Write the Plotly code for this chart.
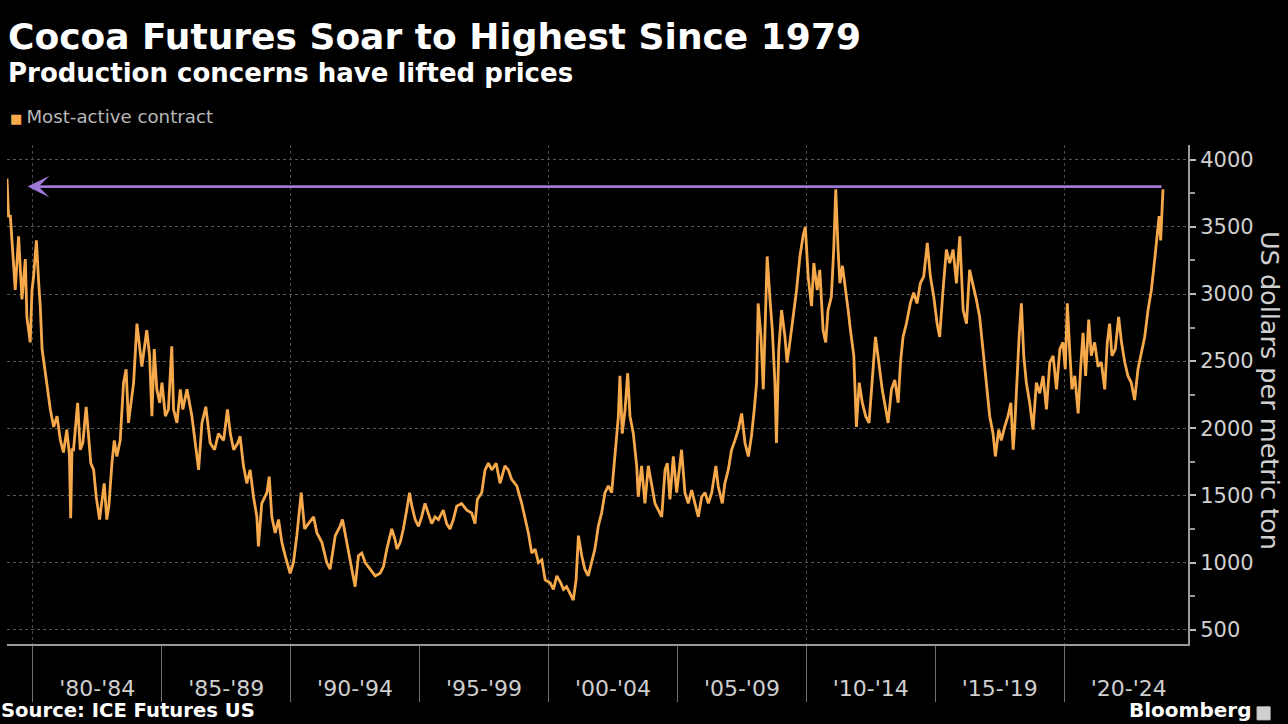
import plotly.graph_objects as go

# ---- data (decimal year, US$ per metric ton) ----
years = [
    1979.00, 1979.06, 1979.13, 1979.26, 1979.32, 1979.45, 1979.58, 1979.71, 1979.77, 1979.90,
    1979.97, 1980.03, 1980.14, 1980.23, 1980.29, 1980.36, 1980.45, 1980.55, 1980.68, 1980.81,
    1980.94, 1981.07, 1981.19, 1981.32, 1981.42, 1981.47, 1981.52, 1981.58, 1981.74, 1981.84,
    1981.94, 1982.07, 1982.16, 1982.25, 1982.36, 1982.46, 1982.59, 1982.68, 1982.77, 1982.87,
    1982.95, 1983.07, 1983.16, 1983.26, 1983.39, 1983.52, 1983.62, 1983.71, 1983.80, 1983.91,
    1984.04, 1984.14, 1984.23, 1984.42, 1984.53, 1984.62, 1984.71, 1984.81, 1984.92, 1985.01,
    1985.14, 1985.26, 1985.39, 1985.46, 1985.59, 1985.72, 1985.82, 1985.98, 1986.08, 1986.17,
    1986.30, 1986.43,
    1986.56, 1986.71, 1986.88, 1987.05, 1987.20, 1987.40, 1987.55, 1987.66, 1987.79, 1987.95,
    1988.04, 1988.17, 1988.30, 1988.43, 1988.56, 1988.69, 1988.75, 1988.88, 1989.08, 1989.17,
    1989.27, 1989.40, 1989.53, 1989.66, 1989.79, 1989.98, 1990.11, 1990.24, 1990.41, 1990.54,
    1990.69, 1990.89, 1991.02, 1991.21, 1991.40, 1991.53, 1991.73, 1991.92, 1992.01, 1992.11,
    1992.24, 1992.37, 1992.50, 1992.63, 1992.76, 1992.89, 1993.08, 1993.28, 1993.47, 1993.60,
    1993.73, 1993.92, 1994.05,
    1994.12, 1994.25, 1994.37, 1994.50, 1994.61, 1994.70, 1994.83, 1994.96, 1995.08, 1995.21,
    1995.34, 1995.47, 1995.60, 1995.73, 1995.92, 1996.05, 1996.18, 1996.31, 1996.44, 1996.63,
    1996.83, 1997.02, 1997.15, 1997.24, 1997.41, 1997.54, 1997.67, 1997.80, 1997.97, 1998.12,
    1998.31, 1998.44, 1998.57, 1998.77, 1998.96, 1999.09, 1999.22, 1999.35, 1999.48, 1999.61,
    1999.74, 1999.87, 2000.06, 2000.19, 2000.32, 2000.47, 2000.58, 2000.70, 2000.83, 2000.96,
    2001.07, 2001.16, 2001.29, 2001.41, 2001.54,
    2001.67, 2001.80, 2001.93, 2002.06, 2002.19, 2002.32, 2002.45, 2002.58, 2002.71, 2002.77,
    2002.86, 2002.97, 2003.07, 2003.16, 2003.29, 2003.42, 2003.48, 2003.61, 2003.74, 2003.87,
    2004.00, 2004.13, 2004.26, 2004.39, 2004.52, 2004.61, 2004.71, 2004.84, 2004.97, 2005.16,
    2005.29, 2005.42, 2005.55, 2005.68, 2005.81, 2005.94, 2006.07, 2006.20, 2006.33, 2006.49,
    2006.58, 2006.74, 2006.84, 2006.97, 2007.10, 2007.23, 2007.36, 2007.49, 2007.62, 2007.75,
    2007.87, 2007.98, 2008.07, 2008.13, 2008.24, 2008.33, 2008.39, 2008.48, 2008.59, 2008.68,
    2008.78, 2008.84, 2008.93, 2009.04, 2009.17,
    2009.25, 2009.36, 2009.49, 2009.62, 2009.75, 2009.87, 2009.96, 2010.07, 2010.20, 2010.29,
    2010.42, 2010.52, 2010.65, 2010.75, 2010.84, 2010.97, 2011.06, 2011.14, 2011.23, 2011.30,
    2011.40, 2011.53, 2011.62, 2011.71, 2011.84, 2011.94, 2012.05, 2012.17, 2012.30, 2012.43,
    2012.56, 2012.68, 2012.81, 2012.94, 2013.08, 2013.17, 2013.30, 2013.43, 2013.56, 2013.65,
    2013.75, 2013.88, 2014.03, 2014.16, 2014.29, 2014.42, 2014.55, 2014.69, 2014.81, 2014.94,
    2015.07, 2015.17, 2015.30, 2015.43, 2015.56, 2015.69, 2015.82, 2015.95, 2016.08, 2016.21,
    2016.33, 2016.46, 2016.59, 2016.72,
    2016.82, 2016.92, 2017.02, 2017.11, 2017.24, 2017.33, 2017.46, 2017.56, 2017.69, 2017.82,
    2017.93, 2018.02, 2018.08, 2018.18, 2018.25, 2018.34, 2018.43, 2018.53, 2018.66, 2018.79,
    2018.92, 2019.05, 2019.18, 2019.31, 2019.44, 2019.57, 2019.70, 2019.83, 2019.95, 2020.04,
    2020.12, 2020.21, 2020.30, 2020.41, 2020.54, 2020.64, 2020.73, 2020.83, 2020.95, 2021.05,
    2021.18, 2021.31, 2021.44, 2021.57, 2021.67, 2021.76, 2021.85, 2021.98, 2022.11, 2022.22,
    2022.35, 2022.47, 2022.60, 2022.73, 2022.86, 2022.99, 2023.12, 2023.25, 2023.38, 2023.51,
    2023.61, 2023.68, 2023.74, 2023.79, 2023.83,
]

prices = [
    3860, 3580, 3580, 3210, 3030, 3430, 2960, 3260, 2830, 2640,
    3030, 3130, 3400, 3080, 2910, 2590, 2460, 2340, 2140, 2010,
    2090, 1910, 1820, 1990, 1800, 1330, 1840, 1840, 2190, 1840,
    1890, 2160, 1910, 1740, 1690, 1490, 1320, 1440, 1590, 1320,
    1420, 1740, 1910, 1790, 1910, 2340, 2440, 2040, 2190, 2340,
    2780, 2610, 2460, 2730, 2540, 2090, 2590, 2290, 2190, 2340,
    2090, 2140, 2610, 2140, 2040, 2290, 2140, 2290, 2190, 2090,
    1890, 1690,
    2040, 2160, 1890, 1840, 1960, 1910, 2140, 1960, 1840, 1890,
    1940, 1720, 1590, 1690, 1490, 1340, 1120, 1440, 1520, 1640,
    1340, 1220, 1320, 1150, 1050, 920, 1000, 1200, 1520, 1250,
    1290, 1340, 1220, 1150, 1000, 950, 1200, 1270, 1320, 1220,
    1100, 970, 820, 1050, 1070, 1000, 950, 900, 920, 970,
    1100, 1250, 1170,
    1100, 1150, 1250, 1390, 1520, 1420, 1320, 1270, 1340, 1440,
    1370, 1290, 1340, 1320, 1390, 1290, 1250, 1320, 1420, 1440,
    1390, 1370, 1290, 1470, 1520, 1690, 1740, 1690, 1740, 1590,
    1720, 1690, 1620, 1570, 1440, 1340, 1220, 1070, 1100, 1000,
    1020, 870, 850, 800, 900, 850, 800, 820, 770, 720,
    870, 1200, 1050, 950, 900,
    1000, 1100, 1270, 1370, 1520, 1570, 1520, 1790, 2090, 2390,
    1960, 2140, 2410, 2090, 1960, 1720, 1490, 1720, 1440, 1720,
    1590, 1440, 1390, 1340, 1690, 1740, 1470, 1790, 1520, 1840,
    1520, 1440, 1540, 1440, 1340, 1490, 1520, 1440, 1520, 1720,
    1570, 1440, 1590, 1690, 1840, 1910, 1990, 2110, 1890, 1790,
    1940, 2140, 2340, 2930, 2680, 2290, 2780, 3280, 2960, 2730,
    2340, 1890, 2590, 2880, 2680,
    2490, 2640, 2830, 3030, 3280, 3430, 3500, 3130, 2910, 3230,
    3030, 3180, 2730, 2640, 2880, 2980, 3330, 3780, 3330, 3080,
    3210, 3030, 2880, 2730, 2540, 2010, 2340, 2190, 2090, 2040,
    2340, 2680, 2490, 2290, 2140, 2040, 2290, 2360, 2190, 2490,
    2680, 2780, 2930, 3010, 2930, 3080, 3130, 3380, 3130, 2980,
    2780, 2680, 3030, 3330, 3230, 3330, 3080, 3430, 2880, 2780,
    3180, 3080, 2960, 2830,
    2640, 2440, 2240, 2090, 1960, 1790, 1990, 1910, 2010, 2090,
    2190, 1840, 2010, 2440, 2680, 2930, 2540, 2340, 2190, 1990,
    2340, 2260, 2390, 2140, 2490, 2540, 2290, 2590, 2640, 2440,
    2930, 2590, 2290, 2390, 2110, 2460, 2710, 2390, 2810, 2540,
    2640, 2460, 2490, 2290, 2640, 2780, 2540, 2590, 2830, 2640,
    2490, 2390, 2340, 2210, 2440, 2560, 2680, 2880, 3030, 3260,
    3450, 3580, 3400, 3700, 3780,
]

latest_level = 3800          # purple reference line: current price level
arrow_start_year = 1979.8    # arrow points back to this date
last_year = years[-1]

period_labels = ["'80-'84", "'85-'89", "'90-'94", "'95-'99", "'00-'04",
                 "'05-'09", "'10-'14", "'15-'19", "'20-'24"]
period_centers = [1982.5, 1987.5, 1992.5, 1997.5, 2002.5, 2007.5, 2012.5, 2017.5, 2022.5]
decade_lines = [1980, 1990, 2000, 2010, 2020]
y_ticks = [500, 1000, 1500, 2000, 2500, 3000, 3500, 4000]

x_range = [1979.0, 2024.8]
y_range = [393, 4110]

ORANGE = "#F6A94B"
PURPLE = "#9F79D8"
FONT = "DejaVu Sans"

fig = go.Figure()

fig.add_trace(go.Scatter(
    x=years, y=prices, mode="lines",
    line=dict(color=ORANGE, width=2.8),
    showlegend=False, hoverinfo="skip",
))

# invisible trace to host the decade-grid overlay axis
fig.add_trace(go.Scatter(
    x=x_range, y=[None, None], xaxis="x2", yaxis="y",
    mode="lines", showlegend=False, hoverinfo="skip",
))

fig.update_layout(
    width=1288, height=724,
    paper_bgcolor="#000000", plot_bgcolor="#000000",
    margin=dict(l=7, r=100, t=145, b=80),
    font=dict(family=FONT, color="#cccccc"),
    xaxis=dict(
        range=x_range, showgrid=False, zeroline=False,
        tickmode="array", tickvals=period_centers, ticktext=period_labels,
        ticks="", ticklabelstandoff=24,
        tickfont=dict(size=22, color="#cfcfcf", family=FONT),
        showline=True, linecolor="#9a9a9a", linewidth=2,
        minor=dict(tick0=1980, dtick=5, ticks="outside", ticklen=56,
                   tickwidth=1, tickcolor="#6e6e6e", showgrid=False),
    ),
    xaxis2=dict(
        range=x_range, overlaying="x", anchor="y", side="bottom",
        tickmode="array", tickvals=decade_lines, showticklabels=False, ticks="",
        showgrid=True, gridcolor="#4a4a4a", griddash="dot", gridwidth=1,
        zeroline=False, showline=False,
    ),
    yaxis=dict(
        range=y_range, side="right", zeroline=False,
        tickmode="array", tickvals=y_ticks,
        ticks="outside", ticklen=6, tickwidth=1.5, tickcolor="#bbbbbb",
        tickfont=dict(size=21, color="#d0d0d0", family=FONT),
        showgrid=True, gridcolor="#555555", griddash="dot", gridwidth=1,
        showline=True, linecolor="#9a9a9a", linewidth=2,
        minor=dict(dtick=250, ticks="outside", ticklen=5, tickcolor="#999999", showgrid=False),
    ),
)

# purple arrow from latest level back to 1979
fig.add_annotation(
    x=arrow_start_year, y=latest_level, ax=last_year, ay=latest_level,
    xref="x", yref="y", axref="x", ayref="y",
    showarrow=True, arrowhead=3, arrowsize=1.4, arrowwidth=2.6,
    arrowcolor=PURPLE, text="", standoff=0, startstandoff=0,
)

# titles and labels
fig.add_annotation(
    text="<b>Cocoa Futures Soar to Highest Since 1979</b>",
    xref="paper", yref="paper", x=0.0, y=1.2613, xanchor="left", yanchor="top",
    showarrow=False, borderpad=0, font=dict(size=36, color="#ffffff", family=FONT),
)
fig.add_annotation(
    text="<b>Production concerns have lifted prices</b>",
    xref="paper", yref="paper", x=0.0, y=1.1765, xanchor="left", yanchor="top",
    showarrow=False, borderpad=0, font=dict(size=26, color="#ffffff", family=FONT),
)
fig.add_annotation(
    text=f"<span style='color:{ORANGE};font-size:13px'>■ </span>Most-active contract",
    xref="paper", yref="paper", x=0.002, y=1.0806, xanchor="left", yanchor="top",
    showarrow=False, borderpad=0, font=dict(size=18.2, color="#b8b8b8", family=FONT),
)
fig.add_annotation(
    text="US dollars per metric ton", textangle=90,
    xref="paper", yref="paper", x=1.0695, y=0.509, xanchor="center", yanchor="middle",
    showarrow=False, borderpad=0, font=dict(size=25.5, color="#d0d0d0", family=FONT),
)
fig.add_annotation(
    text="<b>Source: ICE Futures US</b>",
    xref="paper", yref="paper", x=-0.006, y=-0.1593, xanchor="left", yanchor="bottom",
    showarrow=False, borderpad=0, font=dict(size=19.6, color="#ffffff", family=FONT),
)
fig.add_annotation(
    text="<b>Bloomberg</b>",
    xref="paper", yref="paper", x=1.0545, y=-0.1593, xanchor="right", yanchor="bottom",
    showarrow=False, borderpad=0, font=dict(size=20, color="#ffffff", family=FONT),
)
fig.add_shape(
    type="rect", xref="paper", yref="paper",
    x0=1.0585, x1=1.0695, y0=-0.152, y1=-0.126,
    fillcolor="#cfcfcf", line=dict(color="#cfcfcf", width=1),
)

fig.write_html("out.html")
